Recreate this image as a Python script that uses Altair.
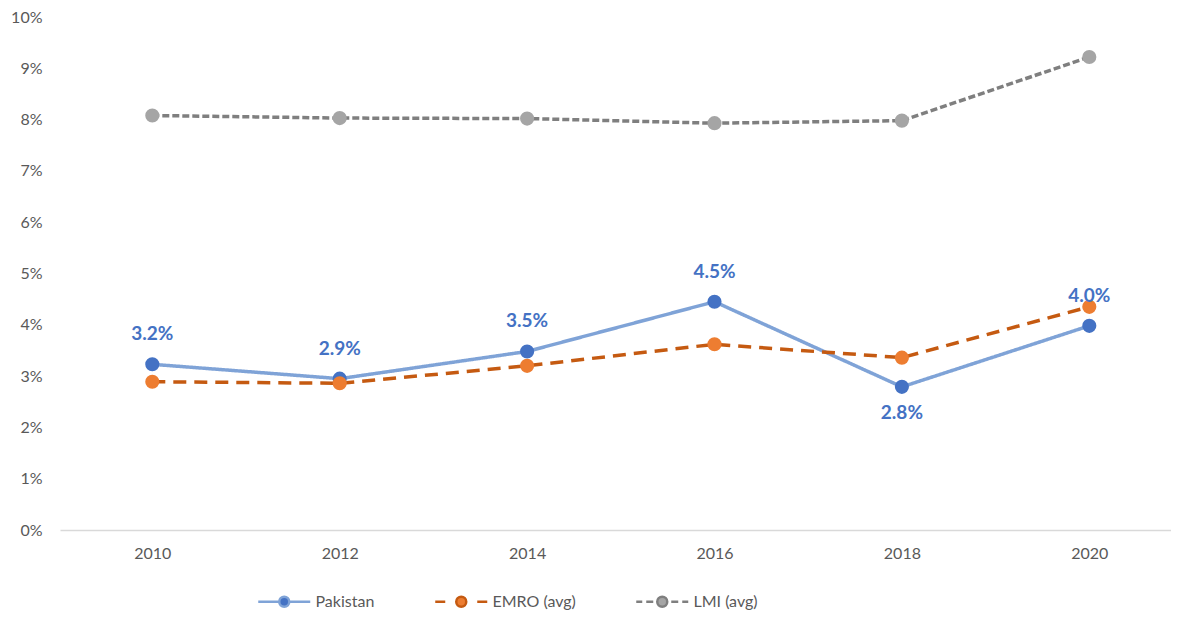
import altair as alt
import pandas as pd

# ---- data ----
years = [2010, 2012, 2014, 2016, 2018, 2020]
pakistan = [3.23, 2.95, 3.48, 4.45, 2.79, 3.98]
emro = [2.89, 2.86, 3.20, 3.62, 3.36, 4.35]
lmi = [8.08, 8.03, 8.02, 7.93, 7.98, 9.22]
pak_labels = ["3.2%", "2.9%", "3.5%", "4.5%", "2.8%", "4.0%"]
label_side = ["above", "above", "above", "above", "below", "above"]
series_names = ["Pakistan", "EMRO (avg)", "LMI (avg)"]
y_ticks = list(range(0, 11))

# ---- styles ----
line_colors = ["#7FA3D7", "#C55A11", "#7F7F7F"]
dot_colors = ["#4472C4", "#ED7D31", "#A5A5A5"]
dashes = [[1, 0], [13, 8], [7, 3]]
FONT = "Lato"

rows = []
for name, vals in zip(series_names, [pakistan, emro, lmi]):
    for yr, v in zip(years, vals):
        rows.append({"year": yr, "value": v, "series": name})
df = pd.DataFrame(rows)
lab_df = pd.DataFrame({"year": years, "value": pakistan, "label": pak_labels, "side": label_side})

# ---- legend symbol paths (line segments + dot) ----
SYM = 196            # symbol size -> sqrt = 14 px
UNIT = 7.0           # px per unit in custom path
C0 = 8.25            # symbol centre from entry left (px)


def legend_path(segments, cx=26.0, r=5.0):
    def u(px):
        return (px - C0) / UNIT
    parts = []
    for a, b in segments:
        parts.append(f"M{u(a):.3f},0L{u(b):.3f},0")
    rr = r / UNIT
    c = u(cx)
    parts.append(
        f"M{c - rr:.3f},0A{rr:.3f},{rr:.3f},0,1,0,{c + rr:.3f},0"
        f"A{rr:.3f},{rr:.3f},0,1,0,{c - rr:.3f},0Z"
    )
    return "".join(parts)


legend_paths = [
    legend_path([(0, 20), (32, 52)]),
    legend_path([(0, 10), (42, 52)]),
    legend_path([(0, 6), (10, 17), (35, 42), (46, 52)]),
]

# ---- scales / axes ----
W, H = 1111, 513
px_per_year = 93.7
xmin = 2010 - 92.3 / px_per_year
xmax = xmin + W / px_per_year

x_enc = alt.X(
    "year:Q",
    scale=alt.Scale(domain=[xmin, xmax], nice=False, zero=False),
    axis=alt.Axis(
        values=years, format="d", title=None, grid=False, ticks=False, tickSize=0,
        labelPadding=15, domainColor="#D9D9D9", domainWidth=1.5,
        labelFont=FONT, labelFontSize=16, labelColor="#595959",
    ),
)
y_enc = alt.Y(
    "value:Q",
    scale=alt.Scale(domain=[0, 10], nice=False),
    axis=alt.Axis(
        values=y_ticks, labelExpr="datum.value + '%'", title=None, grid=False,
        ticks=False, tickSize=0, domain=False, labelPadding=18,
        labelFont=FONT, labelFontSize=16, labelColor="#595959",
    ),
)

stroke_scale = alt.Scale(domain=series_names, range=line_colors)
fill_scale = alt.Scale(domain=series_names, range=dot_colors)
shape_scale = alt.Scale(domain=series_names, range=legend_paths)

leg = alt.Legend(
    orient="none", legendX=198, legendY=576, direction="horizontal", title=None,
    symbolSize=SYM, symbolStrokeWidth=2.5, symbolOpacity=1, labelOffset=40.5,
    labelFont=FONT, labelFontSize=16, labelColor="#595959",
    columnPadding=55, padding=0,
)

# legend-only layer (first, so its symbol encoding is used)
legend_layer = alt.Chart(df).mark_point(
    filled=True, opacity=0, strokeWidth=2.5
).encode(
    x=x_enc, y=y_enc,
    fill=alt.Fill("series:N", scale=fill_scale, legend=leg),
    stroke=alt.Stroke("series:N", scale=stroke_scale, legend=leg),
    shape=alt.Shape("series:N", scale=shape_scale, legend=leg),
)

line_layers = []
for name, dash in zip(series_names, dashes):
    line_layers.append(
        alt.Chart(df).transform_filter(alt.datum.series == name).mark_line(
            strokeWidth=3.5, strokeJoin="round", strokeDash=dash
        ).encode(
            x=x_enc, y=y_enc,
            stroke=alt.Stroke("series:N", scale=stroke_scale, legend=leg),
        )
    )

points = alt.Chart(df).mark_point(filled=True, size=200, opacity=1).encode(
    x=x_enc, y=y_enc,
    fill=alt.Fill("series:N", scale=fill_scale, legend=leg),
)

lab_above = alt.Chart(lab_df).transform_filter("datum.side == 'above'").mark_text(
    dy=-30, font=FONT, fontSize=19, fontWeight="bold", color="#4472C4"
).encode(x=x_enc, y=y_enc, text="label:N")

lab_below = alt.Chart(lab_df).transform_filter("datum.side == 'below'").mark_text(
    dy=26, font=FONT, fontSize=19, fontWeight="bold", color="#4472C4"
).encode(x=x_enc, y=y_enc, text="label:N")

chart = alt.layer(legend_layer, *line_layers, points, lab_above, lab_below).properties(
    width=W, height=H,
    autosize=alt.AutoSizeParams(type="none"),
    padding={"left": 52, "top": 9, "right": 0, "bottom": 81},
    background="white",
).configure_view(stroke=None)

chart.save("out.html", embed_options={"renderer": "svg", "actions": False})
